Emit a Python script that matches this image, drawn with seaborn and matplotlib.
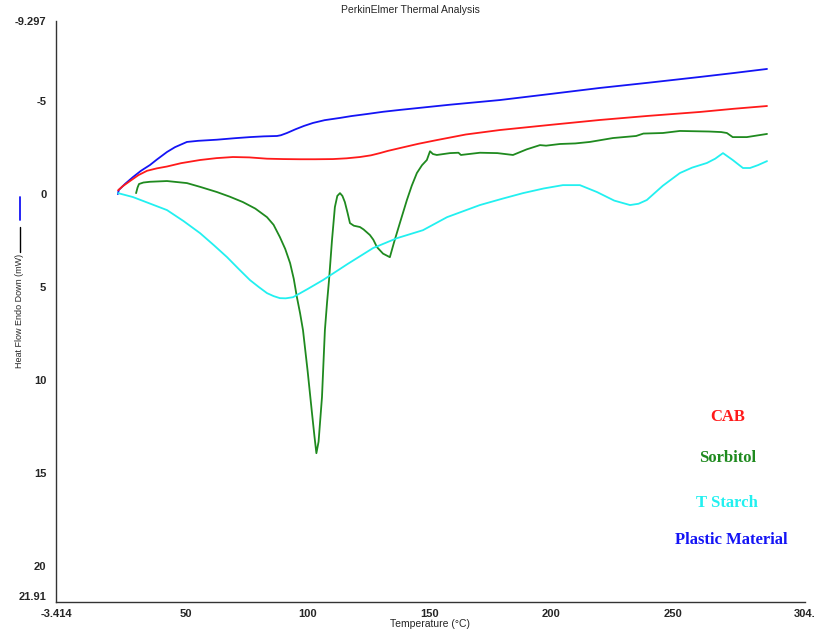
import numpy as np
import pandas as pd
import matplotlib
matplotlib.use('Agg')
import matplotlib.pyplot as plt
from matplotlib.lines import Line2D
import seaborn as sns

# --- Data (temperature in degC, heat flow in mW) ---
plastic_t = [22.0, 22.4, 25.0, 28.2, 31.5, 35.2, 38.0, 42.2, 45.5, 50.4, 55.0,
             62.7, 70.0, 76.3, 82.0, 87.4, 89.0, 91.5, 95.0, 98.5, 102.2, 107.0,
             113.3, 118.0, 124.4, 131.0, 137.9, 158.5, 179.0, 200.0, 220.1, 240.0,
             261.2, 275.0, 288.8]
plastic_hf = [0.0, -0.22, -0.55, -0.91, -1.25, -1.56, -1.85, -2.26, -2.52, -2.80, -2.86,
              -2.92, -3.00, -3.06, -3.10, -3.12, -3.16, -3.28, -3.48, -3.66, -3.82, -3.97,
              -4.09, -4.19, -4.30, -4.42, -4.52, -4.80, -5.05, -5.38, -5.70, -5.98,
              -6.29, -6.50, -6.72]

cab_t = [22.1, 24.0, 27.0, 30.5, 34.0, 38.0, 42.2, 48.0, 55.8, 62.5, 69.3, 76.0,
         83.3, 90.0, 96.9, 103.0, 110.4, 116.0, 121.5, 126.0, 129.7, 133.0, 137.9,
         145.5, 153.1, 165.0, 179.0, 200.0, 220.1, 240.0, 261.2, 275.0, 288.8]
cab_hf = [-0.2, -0.42, -0.7, -1.02, -1.25, -1.38, -1.48, -1.66, -1.83, -1.93, -1.99, -1.97,
          -1.90, -1.88, -1.87, -1.87, -1.88, -1.92, -1.99, -2.08, -2.20, -2.32, -2.47,
          -2.70, -2.90, -3.20, -3.44, -3.72, -3.98, -4.20, -4.41, -4.58, -4.73]

sorbitol_t = [29.5, 30.1, 30.7, 32.5, 35.2, 42.2, 50.4, 56.0, 62.7, 68.0, 73.4,
              78.5, 83.3, 86.0, 88.6, 90.8, 92.8, 94.3, 95.6, 96.9, 98.1, 100.0,
              101.8, 102.8, 103.6, 104.5, 105.9, 106.5, 107.1, 108.0, 108.8, 110.0,
              111.2, 112.2, 113.3, 114.3, 115.3, 116.4, 117.4, 119.0, 121.5, 123.0,
              125.6, 127.0, 128.5, 131.0, 133.8, 135.5, 137.9, 140.8, 142.8, 144.9,
              147.0, 149.0, 150.3, 151.5, 153.1, 158.5, 162.0, 163.0, 170.8, 178.0,
              184.4, 190.0, 195.5, 198.0, 203.7, 210.0, 216.0, 225.5, 235.0, 238.0,
              246.0, 253.0, 265.0, 270.0, 272.3, 274.7, 280.5, 288.8]
sorbitol_hf = [-0.05, -0.35, -0.54, -0.62, -0.66, -0.70, -0.59, -0.38, -0.11, 0.14, 0.43,
               0.78, 1.24, 1.65, 2.31, 2.95, 3.71, 4.55, 5.54, 6.40, 7.31, 9.50,
               11.77, 13.00, 13.92, 13.30, 10.91, 9.10, 7.31, 5.80, 4.62, 2.50,
               0.70, 0.10, -0.05, 0.10, 0.43, 1.00, 1.56, 1.70, 1.77, 1.90,
               2.20, 2.45, 2.85, 3.20, 3.39, 2.60, 1.56, 0.32, -0.45, -1.13,
               -1.55, -1.83, -2.30, -2.15, -2.10, -2.20, -2.22, -2.10, -2.22, -2.20,
               -2.10, -2.40, -2.63, -2.60, -2.69, -2.72, -2.80, -3.01, -3.12, -3.25,
               -3.28, -3.39, -3.36, -3.33, -3.28, -3.06, -3.06, -3.23]

starch_t = [22.1, 28.2, 35.0, 42.2, 49.0, 55.8, 61.5, 66.9, 71.5, 76.3, 80.0,
            83.3, 86.0, 88.6, 91.0, 94.0, 100.0, 106.3, 116.5, 126.9, 136.7, 147.4,
            157.3, 170.8, 180.0, 188.5, 197.0, 204.9, 211.9, 218.9, 226.0, 232.5,
            236.0, 239.4, 246.0, 253.0, 258.0, 264.1, 267.5, 270.7, 274.7, 278.9,
            281.8, 285.0, 288.8]
starch_hf = [-0.05, 0.16, 0.50, 0.86, 1.45, 2.10, 2.75, 3.39, 4.00, 4.62, 5.00,
             5.32, 5.48, 5.59, 5.60, 5.54, 5.10, 4.62, 3.75, 2.90, 2.37, 1.94,
             1.24, 0.59, 0.25, -0.05, -0.30, -0.48, -0.48, -0.11, 0.35, 0.59,
             0.52, 0.32, -0.45, -1.13, -1.42, -1.67, -1.90, -2.20, -1.83, -1.40,
             -1.40, -1.55, -1.77]

names = ['Plastic Material', 'CAB', 'Sorbitol', 'T Starch']
colors = {'Plastic Material': '#1414f5', 'CAB': '#ff1a1a',
          'Sorbitol': '#1f8a1f', 'T Starch': '#22f0f0'}
series = {'Plastic Material': (plastic_t, plastic_hf), 'CAB': (cab_t, cab_hf),
          'Sorbitol': (sorbitol_t, sorbitol_hf), 'T Starch': (starch_t, starch_hf)}

df = pd.concat([pd.DataFrame({'temp': t, 'hf': h, 'sample': n})
                for n, (t, h) in series.items()], ignore_index=True)

# --- Plot ---
sns.set_style('white')
plt.rcParams['font.family'] = ['Liberation Sans', 'DejaVu Sans']

fig = plt.figure(figsize=(8.15, 6.32), dpi=100)
ax = fig.add_axes([0.0687, 0.0475, 0.919, 0.9193])
sns.lineplot(data=df, x='temp', y='hf', hue='sample', hue_order=names,
             palette=colors, sort=False, estimator=None, linewidth=1.3,
             legend=False, ax=ax)

ax.set_xlim(-3.414, 304.4)
ax.set_ylim(21.91, -9.297)
ax.set_xticks([-3.414, 0, 50, 100, 150, 200, 250, 300, 304.4])
ax.set_xticklabels(['-3.414', '', '50', '100', '150', '200', '250', '', '304.'])
ax.set_yticks([-9.297, -5, 0, 5, 10, 15, 20, 21.91])
ax.set_yticklabels(['-9.297', '-5', '0', '5', '10', '15', '20', '21.91'])
ax.tick_params(axis='x', direction='in', length=4, width=0.8, labelsize=8, pad=5)
ax.tick_params(axis='y', direction='out', length=4, width=0.8, labelsize=8, pad=3)
for lab in ax.get_xticklabels() + ax.get_yticklabels():
    lab.set_fontweight('bold')
# the corner label sits a little higher so it clears the x labels
ax.get_yticklabels()[-1].set_va('bottom')
for sp in ['top', 'right']:
    ax.spines[sp].set_visible(False)
for sp in ['left', 'bottom']:
    ax.spines[sp].set_color('#333333')
    ax.spines[sp].set_linewidth(1.0)
ax.set_xlabel('')
ax.set_ylabel('')

fig.text(0.503, 0.984, 'PerkinElmer Thermal Analysis', ha='center', va='center', fontsize=7.5)
fig.text(0.528, 0.013, 'Temperature (°C)', ha='center', va='center', fontsize=7.5)
fig.text(0.0245, 1 - 311 / 632, 'Heat Flow Endo Down (mW)', rotation=90,
         ha='center', va='center', fontsize=6.5)
fig.add_artist(Line2D([0.0245, 0.0245], [1 - 197 / 632, 1 - 220 / 632],
                      color='#1414f5', lw=1.3, transform=fig.transFigure))
fig.add_artist(Line2D([0.0245, 0.0245], [1 - 227 / 632, 1 - 252 / 632],
                      color='black', lw=1.0, transform=fig.transFigure))

# coloured sample labels in place of a legend
label_pos = {'CAB': (728, 417), 'Sorbitol': (728, 458),
             'T Starch': (727, 503), 'Plastic Material': (731, 540)}
for n, (px, py) in label_pos.items():
    fig.text(px / 815, 1 - py / 632, n, color=colors[n], ha='center', va='center',
             fontsize=12, fontweight='bold', family=['Liberation Serif', 'DejaVu Serif'])

fig.savefig('out.png', dpi=100)
